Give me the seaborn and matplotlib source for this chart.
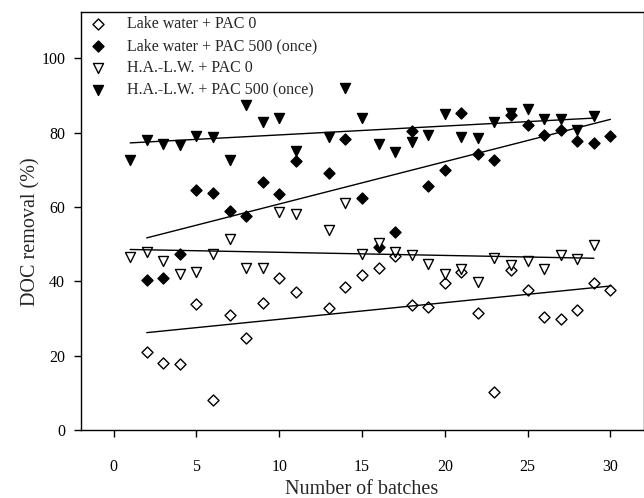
import numpy as np
import pandas as pd
import matplotlib
matplotlib.use("Agg")
import matplotlib.pyplot as plt
import seaborn as sns

# Batch numbers for the two water types
batches_lake = [2, 3, 4, 5, 6, 7, 8, 9, 10, 11, 13, 14, 15, 16, 17, 18, 19, 20,
                21, 22, 23, 24, 25, 26, 27, 28, 29, 30]
batches_ha = [1, 2, 3, 4, 5, 6, 7, 8, 9, 10, 11, 13, 14, 15, 16, 17, 18, 19,
              20, 21, 22, 23, 24, 25, 26, 27, 28, 29]

# DOC removal (%)
lake_pac0 = [20.9, 18.1, 17.7, 33.9, 8.1, 30.9, 24.8, 34.2, 41.0, 37.2, 32.9,
             38.4, 41.6, 43.5, 46.8, 33.6, 33.0, 39.6, 42.6, 31.5, 10.3, 43.0,
             37.6, 30.5, 30.0, 32.3, 39.6, 37.6]
lake_pac500 = [40.5, 41.0, 47.5, 64.7, 63.9, 59.0, 57.5, 66.8, 63.5, 72.4, 69.3,
               78.4, 62.4, 49.3, 53.3, 80.5, 65.7, 69.9, 85.3, 74.2, 72.8, 84.9,
               82.0, 79.3, 80.8, 77.8, 77.2, 79.0]
ha_pac0 = [46.6, 47.8, 45.4, 42.1, 42.4, 47.3, 51.3, 43.7, 43.7, 58.6, 58.0,
           53.9, 61.2, 47.5, 50.4, 47.8, 47.0, 44.8, 42.1, 43.3, 39.9, 46.4,
           44.5, 45.4, 43.2, 47.0, 46.1, 49.7]
ha_pac500 = [72.6, 78.0, 77.1, 76.6, 79.0, 78.8, 72.6, 87.4, 82.9, 84.1, 75.1,
             78.8, 92.0, 84.0, 76.9, 74.8, 77.5, 79.5, 85.1, 78.8, 78.7, 82.9,
             85.3, 86.5, 83.8, 83.8, 80.8, 84.4]

series_labels = ["Lake water + PAC 0", "Lake water + PAC 500 (once)",
                 "H.A.-L.W. + PAC 0", "H.A.-L.W. + PAC 500 (once)"]

sns.set_theme(style="ticks")
plt.rcParams["font.family"] = ["Liberation Serif", "DejaVu Serif"]

fig = plt.figure(figsize=(6.44, 4.98), dpi=100)
ax = fig.add_axes([80.5 / 644, 68 / 498, 563 / 644, 418 / 498])

series = [
    (batches_lake, lake_pac0, "D", "white", 5.6),
    (batches_lake, lake_pac500, "D", "black", 5.6),
    (batches_ha, ha_pac0, "v", "white", 7.2),
    (batches_ha, ha_pac500, "v", "black", 7.2),
]

for (xs, ys, mk, fc, ms), lab in zip(series, series_labels):
    df = pd.DataFrame({"batch": xs, "removal": ys})
    sns.scatterplot(data=df, x="batch", y="removal", ax=ax, marker=mk,
                    s=ms ** 2, facecolor=fc, edgecolor="black", linewidth=1.0,
                    label=lab, zorder=3)

# least-squares trend line for each series, over its own batch range
for (xs, ys, mk, fc, ms) in series:
    df = pd.DataFrame({"batch": xs, "removal": ys})
    sns.regplot(data=df, x="batch", y="removal", ax=ax, scatter=False, ci=None,
                truncate=True, color="black", line_kws={"lw": 1.0, "zorder": 4})

ax.set_xlim(-2, 32)
ax.set_ylim(0, 112.5)
ax.set_xticks([0, 5, 10, 15, 20, 25, 30])
ax.set_yticks([0, 20, 40, 60, 80, 100])
ax.set_xlabel("Number of batches", fontsize=14.5)
ax.set_ylabel("DOC removal (%)", fontsize=14.5)
ax.xaxis.set_label_coords(0.5, -50 / 418)
ax.yaxis.set_label_coords(-40 / 563, 198 / 418)
ax.tick_params(direction="out", length=5, width=1, labelsize=11.5,
               color="black", labelcolor="black")
ax.tick_params(axis="x", pad=16)
ax.tick_params(axis="y", pad=6)
for sp in ax.spines.values():
    sp.set_visible(True)
    sp.set_linewidth(1.0)
    sp.set_color("black")

ax.legend(loc="upper left", bbox_to_anchor=(0, 1 + 4 / 418), frameon=False,
          fontsize=11.5, handletextpad=1.2, labelspacing=0.38,
          borderaxespad=0.3, handlelength=1.2, borderpad=0.2)

fig.savefig("out.png", dpi=100)
